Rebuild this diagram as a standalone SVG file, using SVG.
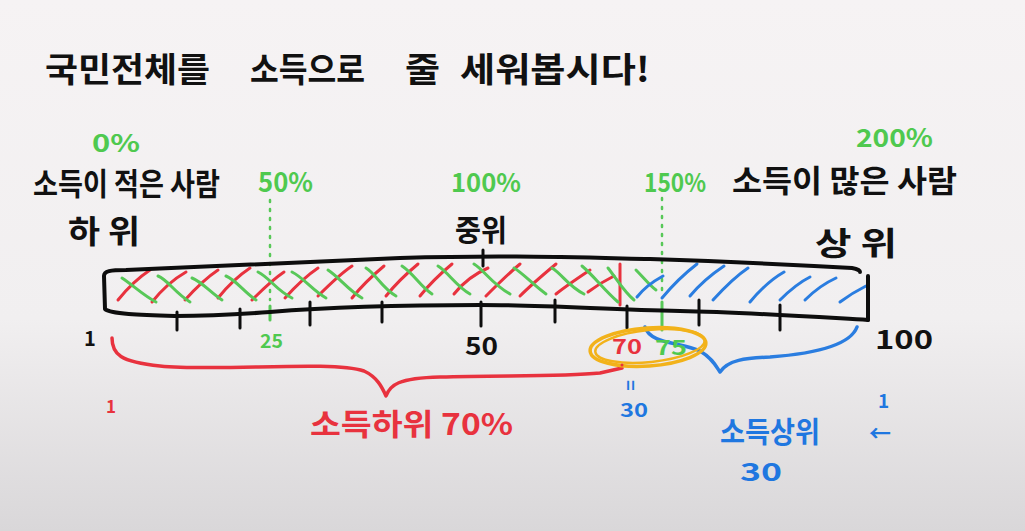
<svg xmlns="http://www.w3.org/2000/svg" width="1025" height="531" viewBox="0 0 1025 531">
<defs>
<linearGradient id="bg" x1="0" y1="0" x2="0" y2="1">
<stop offset="0" stop-color="#f6f3f4"/>
<stop offset="0.6" stop-color="#f1eff0"/>
<stop offset="1" stop-color="#d9d7d9"/>
</linearGradient>
<style>
text{font-family:"Noto Sans CJK KR","Noto Sans",sans-serif;font-weight:bold}
.k{fill:#111}
.g{fill:#4fc94f}
.r{fill:#e8323e}
.b{fill:#1f77e0}
.ln{fill:none;stroke-linecap:round;stroke-linejoin:round}
.bar{stroke:#0d0d0d;stroke-width:4}
.tick{stroke:#0d0d0d;stroke-width:3}
.rh{stroke:#e8323e;stroke-width:3}
.gh{stroke:#58c858;stroke-width:3}
.bh{stroke:#2a7de0;stroke-width:3}
.dot{stroke:#58c858;stroke-width:2.5;stroke-dasharray:2 7}
</style>
</defs>
<rect width="1025" height="531" fill="url(#bg)"/>

<g id="title">
<text class="k" x="45" y="82" font-size="34" textLength="165" lengthAdjust="spacingAndGlyphs">국민전체를</text>
<text class="k" x="250" y="82" font-size="34" textLength="115" lengthAdjust="spacingAndGlyphs">소득으로</text>
<text class="k" x="405" y="82" font-size="34" textLength="35" lengthAdjust="spacingAndGlyphs">줄</text>
<text class="k" x="460" y="82" font-size="34" textLength="190" lengthAdjust="spacingAndGlyphs">세워봅시다!</text>
</g>

<g id="labels-top">
<text class="g" x="92" y="152" font-size="24" textLength="48" lengthAdjust="spacingAndGlyphs">0%</text>
<text class="k" x="33" y="195" font-size="31" textLength="187" lengthAdjust="spacingAndGlyphs">소득이 적은 사람</text>
<text class="k" x="68" y="243" font-size="32" textLength="72" lengthAdjust="spacingAndGlyphs">하 위</text>
<text class="g" x="258" y="192" font-size="27" textLength="55" lengthAdjust="spacingAndGlyphs">50%</text>
<text class="g" x="451" y="192" font-size="26" textLength="70" lengthAdjust="spacingAndGlyphs">100%</text>
<text class="k" x="455" y="241" font-size="30" textLength="52" lengthAdjust="spacingAndGlyphs">중위</text>
<text class="g" x="644" y="192" font-size="26" textLength="62" lengthAdjust="spacingAndGlyphs">150%</text>
<text class="g" x="856" y="147" font-size="25" textLength="77" lengthAdjust="spacingAndGlyphs">200%</text>
<text class="k" x="732" y="192" font-size="31" textLength="225" lengthAdjust="spacingAndGlyphs">소득이 많은 사람</text>
<text class="k" x="815" y="255" font-size="32" textLength="82" lengthAdjust="spacingAndGlyphs">상 위</text>
</g>

<g id="guides">
<path class="ln dot" d="M270,200 L270,300"/>
<path class="ln gh" d="M270,306 L270,320"/>
<path class="ln dot" d="M662,198 L662,296"/>
<path class="ln gh" d="M662,302 L662,330"/>
</g>

<g id="hatch-red">
<path class="ln rh" d="M118,300 C126,290 138,278 150,270"/>
<path class="ln rh" d="M152,302 C160,292 172,280 186,272"/>
<path class="ln rh" d="M185,300 C194,290 206,278 218,270"/>
<path class="ln rh" d="M218,298 C226,288 238,276 250,268"/>
<path class="ln rh" d="M252,300 C262,290 272,280 284,272"/>
<path class="ln rh" d="M285,298 C294,288 306,276 318,268"/>
<path class="ln rh" d="M318,296 C328,286 340,274 352,266"/>
<path class="ln rh" d="M352,298 C360,288 372,276 384,266"/>
<path class="ln rh" d="M386,296 C394,286 406,274 418,264"/>
<path class="ln rh" d="M420,296 C428,286 440,274 452,264"/>
<path class="ln rh" d="M454,294 C462,284 474,274 488,268"/>
<path class="ln rh" d="M486,296 C496,286 508,274 520,264"/>
<path class="ln rh" d="M520,296 C530,286 544,274 556,264"/>
<path class="ln rh" d="M556,294 C566,286 578,278 590,270"/>
<path class="ln rh" d="M588,292 C596,286 606,280 614,276"/>
<path class="ln rh" d="M620,264 L620,305"/>
</g>

<g id="hatch-green">
<path class="ln gh" d="M122,278 C134,286 144,296 156,302"/>
<path class="ln gh" d="M158,276 C168,280 174,292 190,302"/>
<path class="ln gh" d="M192,278 C202,282 210,292 222,300"/>
<path class="ln gh" d="M226,276 C236,280 244,292 256,300"/>
<path class="ln gh" d="M258,272 C270,278 276,290 292,298"/>
<path class="ln gh" d="M292,272 C304,278 312,290 326,298"/>
<path class="ln gh" d="M328,270 C340,278 348,290 362,298"/>
<path class="ln gh" d="M366,268 C376,274 382,288 396,296"/>
<path class="ln gh" d="M402,266 C414,274 420,286 432,294"/>
<path class="ln gh" d="M438,266 C448,272 456,286 470,294"/>
<path class="ln gh" d="M474,264 C484,270 492,284 510,294"/>
<path class="ln gh" d="M514,268 C524,274 532,284 546,294"/>
<path class="ln gh" d="M552,268 C562,274 568,286 584,294"/>
<path class="ln gh" d="M582,266 C594,276 604,290 618,302"/>
<path class="ln gh" d="M608,268 C616,278 624,292 634,300"/>
<path class="ln gh" d="M636,270 C644,278 650,286 656,290"/>
</g>

<g id="hatch-blue">
<path class="ln bh" d="M637,297 C644,288 652,282 663,276"/>
<path class="ln bh" d="M662,298 C672,286 684,274 697,264"/>
<path class="ln bh" d="M690,296 C700,284 712,274 724,266"/>
<path class="ln bh" d="M713,300 C724,288 736,276 748,268"/>
<path class="ln bh" d="M750,302 C760,290 770,280 784,272"/>
<path class="ln bh" d="M780,300 C790,290 800,282 810,277"/>
<path class="ln bh" d="M805,300 C815,290 825,283 836,278"/>
<path class="ln bh" d="M840,302 C848,296 858,290 866,286"/>
</g>

<g id="bar">
<path class="ln bar" d="M175,316 C140,315 110,314 105,309 L104,276 C104,271 110,270 126,270 C200,266 300,263 400,258 C500,255 560,257 650,259 C740,262 800,265 852,268 C858,269 860,271 860,272"/>
<path class="ln bar" d="M868,276 L868,320"/>
<path class="ln bar" d="M868,320 C800,316 740,312 680,311 C600,309 540,305 480,305 C400,305 330,307 270,312 C230,315 200,316 175,316"/>
</g>

<g id="ticks">
<path class="ln tick" d="M177,312 L177,330"/>
<path class="ln tick" d="M240,309 L240,328"/>
<path class="ln tick" d="M310,302 L310,325"/>
<path class="ln tick" d="M382,302 L382,322"/>
<path class="ln tick" d="M481,302 L481,326"/>
<path class="ln tick" d="M483,250 L483,266"/>
<path class="ln tick" d="M555,300 L555,322"/>
<path class="ln tick" d="M627,306 L627,328"/>
<path class="ln tick" d="M699,300 L699,325"/>
<path class="ln tick" d="M780,305 L780,330"/>
</g>

<g id="axis-labels">
<text class="k" x="84" y="346" font-size="20">1</text>
<text class="g" x="260" y="348" font-size="19" textLength="23" lengthAdjust="spacingAndGlyphs">25</text>
<text class="k" x="465" y="355" font-size="24" textLength="33" lengthAdjust="spacingAndGlyphs">50</text>
<text class="k" x="875" y="349" font-size="26" textLength="58" lengthAdjust="spacingAndGlyphs">100</text>
</g>

<g id="braces">
<path class="ln" stroke="#e8323e" stroke-width="3.5" d="M112,338 C112,354 120,362 160,366 C220,372 330,360 364,371 C377,377 382,387 386,396 C390,385 398,378 440,377 C500,375 560,377 600,373 L622,368"/>
<path class="ln" stroke="#2a7de0" stroke-width="3.5" d="M645,327 C650,344 680,342 700,351 C712,358 716,366 720,372 C728,360 745,358 770,357 C810,354 850,346 857,327"/>
</g>

<g id="highlight">
<ellipse cx="648" cy="347" rx="58" ry="19" transform="rotate(-4 648 347)" fill="none" stroke="#f2b21a" stroke-width="3.5"/>
<ellipse cx="650" cy="346" rx="55" ry="16" transform="rotate(-6 650 346)" fill="none" stroke="#f2b21a" stroke-width="2.5"/>
<text class="r" x="612" y="354" font-size="20" textLength="30" lengthAdjust="spacingAndGlyphs">70</text>
<text class="g" x="655" y="355" font-size="20" textLength="32" lengthAdjust="spacingAndGlyphs">75</text>
</g>

<g id="bottom-labels">
<circle cx="622" cy="365" r="1.5" fill="#e8323e"/>
<text class="b" x="0" y="0" font-size="18" transform="translate(624,380) rotate(90)">=</text>
<text class="b" x="620" y="417" font-size="19" textLength="28" lengthAdjust="spacingAndGlyphs">30</text>
<text class="r" x="106" y="413" font-size="17">1</text>
<text class="r" x="310" y="435" font-size="30" textLength="203" lengthAdjust="spacingAndGlyphs">소득하위 70%</text>
<text class="b" x="720" y="443" font-size="29" textLength="100" lengthAdjust="spacingAndGlyphs">소득상위</text>
<text class="b" x="740" y="481" font-size="25" textLength="42" lengthAdjust="spacingAndGlyphs">30</text>
<text class="b" x="878" y="408" font-size="19">1</text>
<text class="b" x="869" y="441" font-size="22">←</text>
</g>
</svg>
